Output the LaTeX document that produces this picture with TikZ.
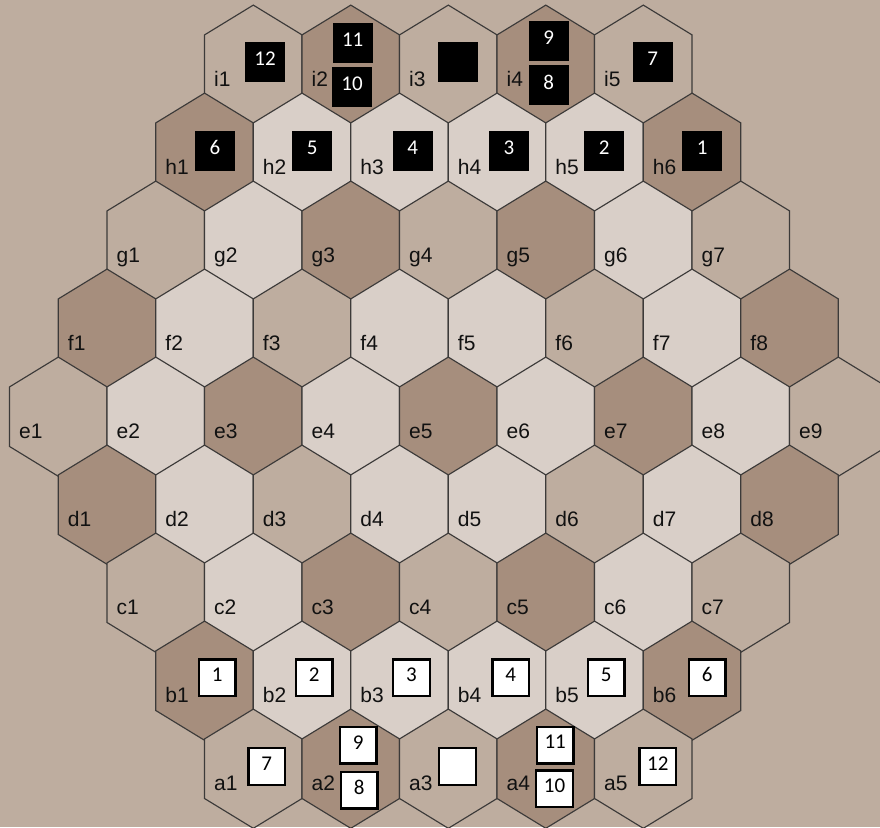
\documentclass[tikz,border=0pt]{standalone}
\usepackage{fontspec}
\setmainfont{Liberation Sans}
\newfontfamily\numfont{Carlito}
\definecolor{bgc}{HTML}{BEAD9F}
\definecolor{hexM}{HTML}{BEAD9F}
\definecolor{hexD}{HTML}{A68E7D}
\definecolor{hexL}{HTML}{D9CFC8}
\definecolor{edgec}{HTML}{3C3A39}
\definecolor{labelc}{HTML}{111111}
\newcommand\hexrow[3]{%
  \foreach \c [count=\j] in {#3} {
    \pgfmathsetmacro\cx{58.3+48.75*abs(#2-4)+97.5*(\j-1)}
    \pgfmathsetmacro\cy{63.3+88*#2}
    \path[hexedge, fill=hex\c] (\cx,\cy) ++(0,-58.2) -- ++(48.75,29.8) -- ++(0,59.6)
      -- ++(-48.75,29.8) -- ++(-48.75,-29.8) -- ++(0,-59.6) -- cycle;
    \coordinate (#1\j) at (\cx,\cy);
    \node[celllabel] (lab#1\j) at (\cx-39.3,\cy+23.3) {#1\j};
  }%
}
\begin{document}
\begin{tikzpicture}[x=1pt,y=-1pt,
  hexedge/.style={draw=edgec, line width=1.15pt, line join=miter},
  celllabel/.style={anchor=base west, inner sep=0pt, text=labelc, font=\fontsize{21}{25}\selectfont},
  blackbox/.style={fill=black, minimum size=40pt, inner sep=0pt, text=white, font=\numfont\fontsize{21}{25}\selectfont},
  whitebox/.style={fill=white, draw=black, line width=2.2pt, minimum size=36.5pt, inner sep=0pt, text=black, font=\numfont\fontsize{21}{25}\selectfont}]
\useasboundingbox (0,0) rectangle (880,827);
\fill[bgc] (0,0) rectangle (880,827);
\begin{scope}
\clip (0,0) rectangle (880,827);
\hexrow{i}{0}{M,D,M,D,M}
\hexrow{h}{1}{D,L,L,L,L,D}
\hexrow{g}{2}{M,L,D,M,D,L,M}
\hexrow{f}{3}{D,L,M,L,L,M,L,D}
\hexrow{e}{4}{M,L,D,L,D,L,D,L,M}
\hexrow{d}{5}{D,L,M,L,L,M,L,D}
\hexrow{c}{6}{M,L,D,M,D,L,M}
\hexrow{b}{7}{D,L,L,L,L,D}
\hexrow{a}{8}{M,D,M,D,M}
\end{scope}
% black pieces
\node[blackbox] (k12) at (265,61.7) {\raisebox{3pt}[\height][0pt]{12}};
\node[blackbox] (k11) at (352.7,42.7) {\raisebox{3pt}[\height][0pt]{11}};
\node[blackbox] (k10) at (352,86.7) {\raisebox{3pt}[\height][0pt]{10}};
\node[blackbox] (k0) at (457.7,61.7) {};
\node[blackbox] (k9) at (548.7,41) {\raisebox{3pt}[\height][0pt]{9}};
\node[blackbox] (k8) at (548.7,85.3) {\raisebox{3pt}[\height][0pt]{8}};
\node[blackbox] (k7) at (652.7,61.7) {\raisebox{3pt}[\height][0pt]{7}};
\node[blackbox] (k6) at (215,150.7) {\raisebox{3pt}[\height][0pt]{6}};
\node[blackbox] (k5) at (312.3,150.7) {\raisebox{3pt}[\height][0pt]{5}};
\node[blackbox] (k4) at (412.7,150.7) {\raisebox{3pt}[\height][0pt]{4}};
\node[blackbox] (k3) at (509,150.7) {\raisebox{3pt}[\height][0pt]{3}};
\node[blackbox] (k2) at (604.3,150.7) {\raisebox{3pt}[\height][0pt]{2}};
\node[blackbox] (k1) at (702.3,150.7) {\raisebox{3pt}[\height][0pt]{1}};
% white pieces
\node[whitebox] (w1) at (217.2,677.8) {\raisebox{3pt}[\height][0pt]{1}};
\node[whitebox] (w2) at (314.2,677.8) {\raisebox{3pt}[\height][0pt]{2}};
\node[whitebox] (w3) at (411.5,677.8) {\raisebox{3pt}[\height][0pt]{3}};
\node[whitebox] (w4) at (510.8,677.8) {\raisebox{3pt}[\height][0pt]{4}};
\node[whitebox] (w5) at (606.2,677.8) {\raisebox{3pt}[\height][0pt]{5}};
\node[whitebox] (w6) at (707.2,677.8) {\raisebox{3pt}[\height][0pt]{6}};
\node[whitebox] (w7) at (266.7,766.5) {\raisebox{3pt}[\height][0pt]{7}};
\node[whitebox] (w9) at (358.3,745.2) {\raisebox{3pt}[\height][0pt]{9}};
\node[whitebox] (w8) at (359.2,790.2) {\raisebox{3pt}[\height][0pt]{8}};
\node[whitebox] (w0) at (457.5,766.5) {};
\node[whitebox] (w11) at (555.2,745.2) {\raisebox{3pt}[\height][0pt]{11}};
\node[whitebox] (w10) at (554.5,788.8) {\raisebox{3pt}[\height][0pt]{10}};
\node[whitebox] (w12) at (657.8,766.5) {\raisebox{3pt}[\height][0pt]{12}};
\end{tikzpicture}
\end{document}
